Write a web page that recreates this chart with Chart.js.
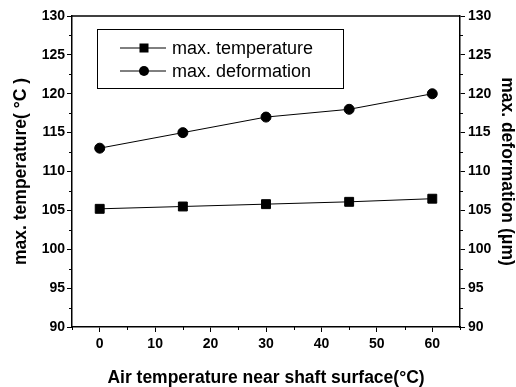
<!DOCTYPE html>
<html>
<head>
<meta charset="utf-8">
<script src="https://cdn.jsdelivr.net/npm/chart.js@4/dist/chart.umd.min.js"></script>
<style>
  html, body { margin: 0; padding: 0; background: #fff; }
  #wrap { width: 516px; height: 387px; }
</style>
</head>
<body>
<div id="wrap"><canvas id="lineChart" width="516" height="387"></canvas></div>
<script>
// data
var airTemp = [0, 15, 30, 45, 60];
var maxTemperature = [105.2, 105.5, 105.8, 106.1, 106.5];
var maxDeformation = [113, 115, 117, 118, 120];
var seriesNames = ['max. temperature', 'max. deformation'];

function toPoints(xs, ys) {
    return xs.map(function (x, i) { return { x: x, y: ys[i] }; });
}

var FONT = '"Liberation Sans", Arial, sans-serif';

// short outward minor ticks + top frame line
var frame = {
    id: 'frame',
    afterDraw: function (chart) {
        var c = chart.ctx, a = chart.chartArea;
        var x = chart.scales.x, yl = chart.scales.y, yr = chart.scales.y1;
        c.save();
        c.strokeStyle = '#000';
        c.lineWidth = 1.5;
        c.beginPath();
        c.moveTo(a.left, a.top);
        c.lineTo(a.right, a.top);
        c.stroke();
        c.lineWidth = 1;
        c.beginPath();
        for (var v = 92.5; v < 130; v += 5) {
            var py = Math.round(yl.getPixelForValue(v)) + 0.5;
            c.moveTo(a.left - 3, py); c.lineTo(a.left, py);
            c.moveTo(a.right, py); c.lineTo(a.right + 3, py);
        }
        for (var u = -5; u <= 65; u += 10) {
            var px = Math.round(x.getPixelForValue(u)) + 0.5;
            c.moveTo(px, a.bottom); c.lineTo(px, a.bottom + 3);
        }
        c.stroke();
        c.restore();
    }
};

// boxed legend inside the plot
var boxLegend = {
    id: 'boxLegend',
    afterDraw: function (chart) {
        var c = chart.ctx, a = chart.chartArea;
        var bx = a.left + 25, by = a.top + 13, bw = 246, bh = 59;
        c.save();
        c.strokeStyle = '#000';
        c.lineWidth = 1;
        c.strokeRect(bx + 0.5, by + 0.5, bw, bh);
        chart.data.datasets.forEach(function (ds, i) {
            var ly = by + 19 + i * 23;
            c.beginPath();
            c.moveTo(bx + 23, ly); c.lineTo(bx + 69, ly);
            c.stroke();
            c.fillStyle = '#000';
            var mx = bx + 47;
            if (ds.pointStyle === 'rect') {
                c.fillRect(mx - 4.5, ly - 4.5, 9, 9);
            } else {
                c.beginPath();
                c.arc(mx, ly, 5, 0, Math.PI * 2);
                c.fill();
            }
            c.font = '18px ' + FONT;
            c.textBaseline = 'middle';
            c.fillText(ds.label, bx + 75, ly + 1);
        });
        c.restore();
    }
};

var titleFont = { family: FONT, size: 17.5, weight: 'bold', lineHeight: 1 };

var ctx = document.getElementById('lineChart').getContext('2d');
var myChart = new Chart(ctx, {
    type: 'line',
    data: {
        datasets: [{
            label: seriesNames[0],
            data: toPoints(airTemp, maxTemperature),
            yAxisID: 'y',
            borderColor: '#000',
            backgroundColor: '#000',
            borderWidth: 1,
            pointStyle: 'rect',
            pointRadius: 6.3,
            pointHoverRadius: 6.3,
            tension: 0
        }, {
            label: seriesNames[1],
            data: toPoints(airTemp, maxDeformation),
            yAxisID: 'y1',
            borderColor: '#000',
            backgroundColor: '#000',
            borderWidth: 1,
            pointStyle: 'circle',
            pointRadius: 5,
            pointHoverRadius: 5,
            tension: 0
        }]
    },
    options: {
        responsive: false,
        animation: false,
        layout: { padding: { top: 16, left: 0, right: 0, bottom: 0 } },
        plugins: {
            legend: { display: false },
            tooltip: { enabled: false }
        },
        scales: {
            x: {
                type: 'linear',
                min: -5,
                max: 65,
                afterBuildTicks: function (s) {
                    s.ticks = [0, 10, 20, 30, 40, 50, 60].map(function (v) { return { value: v }; });
                },
                afterFit: function (s) { s.height = 60; },
                grid: { drawOnChartArea: false, tickLength: 5, color: '#000', lineWidth: 1 },
                border: { color: '#000', width: 1.5 },
                ticks: { color: '#000', padding: 4, font: { family: FONT, size: 14, weight: 'bold' } },
                title: {
                    display: true,
                    text: 'Air temperature near shaft surface(°C)',
                    color: '#000',
                    padding: { top: 0, bottom: 0 },
                    font: titleFont
                }
            },
            y: {
                position: 'left',
                min: 90,
                max: 130,
                ticks: { stepSize: 5, color: '#000', padding: 2, font: { family: FONT, size: 14, weight: 'bold' } },
                afterFit: function (s) { s.width = 72; },
                grid: { drawOnChartArea: false, tickLength: 5, color: '#000' },
                border: { color: '#000', width: 1.5 },
                title: {
                    display: true,
                    text: 'max. temperature( °C )',
                    color: '#000',
                    padding: { top: 12, bottom: 0 },
                    font: titleFont
                }
            },
            y1: {
                position: 'right',
                min: 90,
                max: 130,
                ticks: { stepSize: 5, color: '#000', padding: 3, font: { family: FONT, size: 14, weight: 'bold' } },
                afterFit: function (s) { s.width = 56; },
                grid: { drawOnChartArea: false, tickLength: 5, color: '#000' },
                border: { color: '#000', width: 1.5 },
                title: {
                    display: true,
                    text: 'max. deformation (μm)',
                    color: '#000',
                    padding: { top: 0, bottom: 0 },
                    font: titleFont
                }
            }
        }
    },
    plugins: [frame, boxLegend]
});
</script>
</body>
</html>
